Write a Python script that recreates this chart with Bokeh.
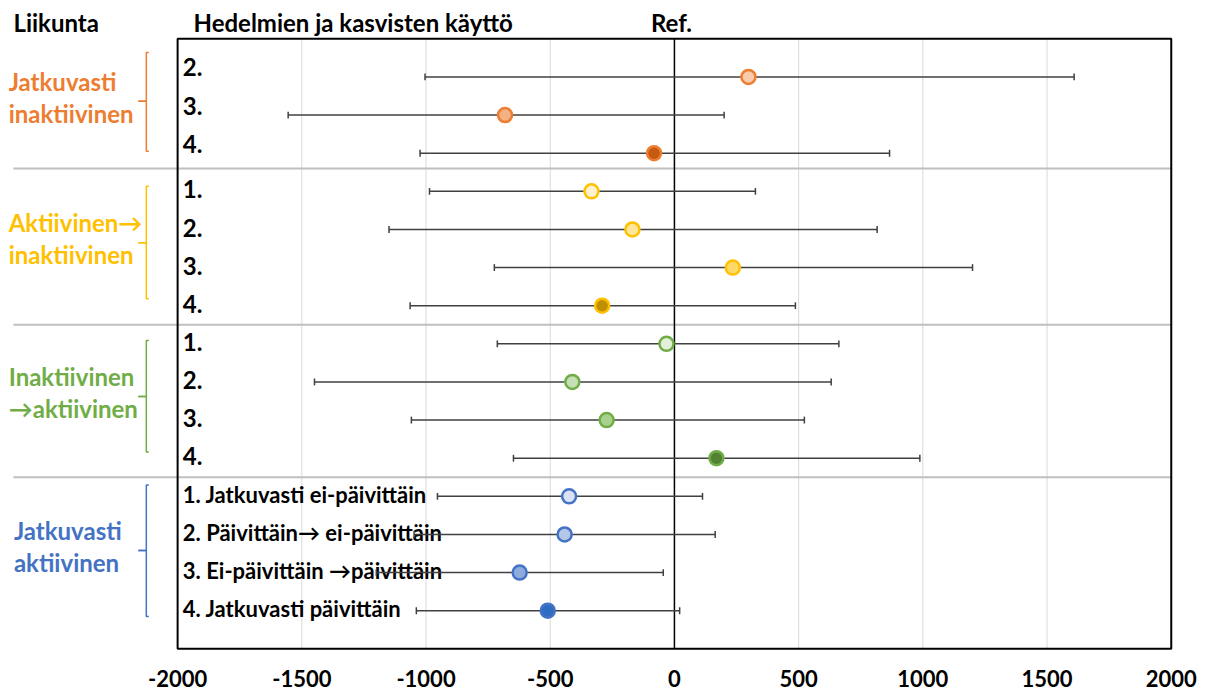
from bokeh.plotting import figure
from bokeh.models import Range1d, FixedTicker, ColumnDataSource
from bokeh.core.properties import value
from bokeh.embed import file_html
from bokeh.resources import INLINE

# ---------------- data ----------------
tick_vals = [-2000, -1500, -1000, -500, 0, 500, 1000, 1500, 2000]
tick_labels = ["-2000", "-1500", "-1000", "-500", "0", "500", "1000", "1500", "2000"]
grid_vals = [-1500, -1000, -500, 500, 1000, 1500]

group_names = [["Jatkuvasti", "inaktiivinen"],
               ["Aktiivinen\u2192", "inaktiivinen"],
               ["Inaktiivinen", "\u2192aktiivinen"],
               ["Jatkuvasti", "aktiivinen"]]
group_colors = ["#ED7D31", "#FFC000", "#70AD47", "#4472C4"]
group_rows = [[1, 2, 3], [4, 5, 6, 7], [8, 9, 10, 11], [12, 13, 14, 15]]

row_labels = ["2.", "3.", "4.",
              "1.", "2.", "3.", "4.",
              "1.", "2.", "3.", "4.",
              "1. Jatkuvasti ei-päivittäin",
              "2. Päivittäin\u2192 ei-päivittäin",
              "3. Ei-päivittäin \u2192päivittäin",
              "4. Jatkuvasti päivittäin"]
estimates = [298, -682, -82,
             -334, -169, 235, -291,
             -32, -411, -273, 169,
             -424, -442, -623, -510]
ci_low = [-1004, -1555, -1024,
          -986, -1149, -725, -1064,
          -713, -1449, -1059, -648,
          -954, -1048, -1200, -1039]
ci_high = [1609, 200, 866,
           326, 816, 1200, 487,
           662, 631, 523, 988,
           113, 164, -45, 21]
marker_fill = ["#F8CBAD", "#F4B183", "#C55A11",
               "#FFF2CC", "#FFE699", "#FFD966", "#BF9000",
               "#E2F0D9", "#C5E0B4", "#A9D18E", "#548235",
               "#DAE3F3", "#B4C7E7", "#8FAADC", "#2E6DBF"]
marker_line = ["#ED7D31"] * 3 + ["#FFC000"] * 4 + ["#70AD47"] * 4 + ["#4472C4"] * 4

# ---------------- layout helpers (positions, not data) ----------------
bracket_spans = [(0.36, 1.64, 2.95), (3.87, 5.35, 6.82), (7.91, 9.38, 10.84), (11.70, 13.42, 15.15)]
separators = [3.4, 7.5, 11.5]
FONT = value("Lato")

rows = list(range(1, len(estimates) + 1))

p = figure(width=1210, height=693, output_backend="svg", toolbar_location=None,
           x_range=Range1d(-2713, 2158), y_range=Range1d(16.07, -1.005),
           min_border_left=0, min_border_right=0, min_border_top=0, min_border_bottom=42,
           y_axis_location=None)
p.outline_line_color = None
p.xgrid.visible = False
p.ygrid.visible = False
p.background_fill_color = "white"
p.border_fill_color = "white"

ax = p.xaxis[0]
ax.ticker = FixedTicker(ticks=tick_vals)
ax.major_label_overrides = {v: l for v, l in zip(tick_vals, tick_labels)}
ax.axis_line_color = None
ax.major_tick_line_color = None
ax.minor_tick_line_color = None
ax.major_label_text_font = "Lato"
ax.major_label_text_font_style = "bold"
ax.major_label_text_font_size = "22px"
ax.major_label_text_color = "black"
ax.major_label_standoff = 12

# grid lines inside box
p.segment(x0=grid_vals, x1=grid_vals, y0=[0] * len(grid_vals), y1=[16] * len(grid_vals),
          line_color="#D9D9D9", line_width=1)

# separators
p.segment(x0=[-2661] * len(separators), x1=[2000] * len(separators), y0=separators, y1=separators,
          line_color="#BFBFBF", line_width=2)

# zero reference line
p.segment(x0=[0], x1=[0], y0=[0], y1=[16], line_color="black", line_width=1.5)

# box
p.quad(left=[-2000], right=[2000], top=[0], bottom=[16], fill_color=None,
       line_color="black", line_width=2)

# header texts
p.text(x=[-2661], y=[-0.42], text=["Liikunta"], text_font=FONT, text_font_style="bold",
       text_font_size="24px", text_baseline="middle", text_align="left", text_color="black")
p.text(x=[-1936], y=[-0.42], text=["Hedelmien ja kasvisten käyttö"], text_font=FONT,
       text_font_style="bold", text_font_size="24px", text_baseline="middle",
       text_align="left", text_color="black")
p.text(x=[-12], y=[-0.42], text=["Ref."], text_font=FONT, text_font_style="bold",
       text_font_size="24px", text_baseline="middle", text_align="center", text_color="black")

# group labels and brackets
for names, col, (top, mid, bot), grp in zip(group_names, group_colors, bracket_spans, group_rows):
    lx = -2659 if grp[0] == 12 else -2680
    p.text(x=[lx, lx], y=[mid - 0.52, mid + 0.32], text=names, text_font=FONT,
           text_font_style="bold", text_font_size="24px", text_baseline="middle",
           text_align="left", text_color=col)
    p.multi_line(xs=[[-2116, -2126, -2126, -2158], [-2158, -2126, -2126, -2116]],
                 ys=[[top, top, mid, mid], [mid, mid, bot, bot]],
                 line_color=col, line_width=1.5)

# row labels
lab_y = [r - 0.25 if r <= 3 else r - 0.05 for r in rows]
lab_src = ColumnDataSource(dict(x=[-1979] * len(rows), y=lab_y, t=row_labels,
                                s=["24px" if r < 12 else "22px" for r in rows]))
p.text(x="x", y="y", text="t", source=lab_src, text_font=FONT, text_font_style="bold",
       text_font_size="s", text_baseline="middle", text_align="left", text_color="black")

# error bars
p.segment(x0=ci_low, x1=ci_high, y0=rows, y1=rows, line_color="#404040", line_width=1.5)
p.segment(x0=ci_low, x1=ci_low, y0=[r - 0.09 for r in rows], y1=[r + 0.09 for r in rows],
          line_color="#404040", line_width=1.5)
p.segment(x0=ci_high, x1=ci_high, y0=[r - 0.09 for r in rows], y1=[r + 0.09 for r in rows],
          line_color="#404040", line_width=1.5)

# estimates
p.scatter(x=estimates, y=rows, size=14, fill_color=marker_fill, line_color=marker_line,
          line_width=2.5)

open("out.html", "w").write(file_html(p, INLINE))
